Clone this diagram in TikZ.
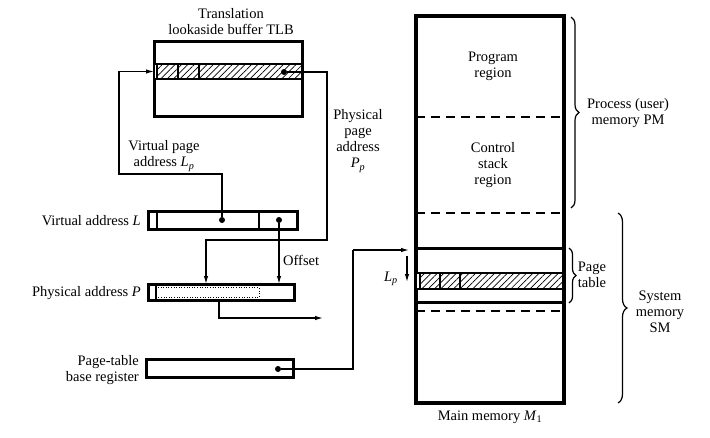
\documentclass[tikz,border=0pt]{standalone}
\usepackage{fontspec}
\setmainfont{Liberation Serif}
\usetikzlibrary{patterns.meta,arrows.meta,decorations.pathreplacing}
\begin{document}
\begin{tikzpicture}[x=1pt,y=-1pt,
  txt/.style={font=\fontsize{14.5}{16}\selectfont, inner sep=0pt, align=center},
  regbox/.style={draw, line width=3pt, inner sep=0pt, outer sep=0pt, anchor=north west},
  hatchrow/.style={draw, line width=1.3pt, inner sep=0pt, outer sep=0pt, anchor=north west,
     pattern={Lines[angle=45,distance=4.5pt,line width=0.7pt]}},
  thin/.style={line width=1.2pt},
  conn/.style={line width=1.2pt},
  arr/.style={conn, -{Latex[length=8pt,width=4.5pt]}},
  dot/.style={circle, fill, inner sep=0pt, minimum size=6pt},
  dashln/.style={line width=1.8pt, dash pattern=on 9pt off 6pt},
  brc/.style={decorate, decoration={brace, amplitude=8pt}, line width=1.2pt}
]
\useasboundingbox (0,0) rectangle (710,437);

% ---------- TLB ----------
\node[regbox, minimum width=148pt, minimum height=75pt] (tlb) at (154,41) {};
\node[hatchrow, minimum width=148pt, minimum height=15pt] (tlbrow) at (154,64) {};
\fill[white] (155,64.7) rectangle (157,78.3);
\draw[thin] (157,64) -- (157,79);
\draw[thin] (178,64) -- (178,79);
\draw[thin] (199,64) -- (199,79);
\node[dot] (tlbdot) at (284,72) {};
\node[txt] (tlbl) at (231,22) {Translation\\lookaside buffer TLB};

% ---------- Virtual address L ----------
\node[regbox, minimum width=149pt, minimum height=18pt] (L) at (148,211) {};
\draw[thin] (157,211) -- (157,229);
\draw[thin] (259,211) -- (259,229);
\node[dot] (Ldot1) at (222,220) {};
\node[dot] (Ldot2) at (279,220) {};
\node[txt, anchor=east] (Llbl) at (141,221) {Virtual address \textit{L}};

% ---------- Physical address P ----------
\node[regbox, minimum width=146pt, minimum height=16pt] (P) at (148,284) {};
\draw[thin] (156,284) -- (156,300);
\draw[line width=0.6pt, dotted] (158,287.5) -- (259,287.5) -- (259,297) -- (158,297);
\node[txt, anchor=east] (Plbl) at (141,293) {Physical address \textit{P}};

% ---------- Page-table base register ----------
\node[regbox, minimum width=147pt, minimum height=18pt] (ptbr) at (146,359) {};
\node[dot] (ptdot) at (278,369) {};
\node[txt, anchor=east, align=right] (ptbrlbl) at (139,370) {Page-table\\base register};

% ---------- Main memory ----------
\node[regbox, line width=3.3pt, minimum width=148pt, minimum height=387pt] (mm) at (416,16) {};
\draw[dashln] (416,117) -- (564,117);
\draw[dashln] (416,213) -- (564,213);
\draw[line width=3pt] (416,248) -- (564,248);
\node[hatchrow, minimum width=148pt, minimum height=16pt] (ptrow) at (416,273) {};
\fill[white] (417,273.7) rectangle (420,288.3);
\draw[thin] (420,273) -- (420,289);
\draw[thin] (440,273) -- (440,289);
\draw[thin] (460,273) -- (460,289);
\draw[line width=3pt] (416,302) -- (564,302);
\draw[dashln] (416,311) -- (564,311);
\node[txt] (prog) at (493,66) {Program\\region};
\node[txt] (ctl) at (493,165) {Control\\stack\\region};
\node[txt] (mmlbl) at (490,417) {Main memory \textit{M}\textsubscript{1}};

% ---------- braces ----------
\coordinate (pmT) at (571,17);
\coordinate (pmB) at (571,208);
\draw[brc] (pmT) -- (pmB);
\node[txt] (pmlbl) at (628,113) {Process (user)\\memory PM};
\coordinate (ptT) at (569,248);
\coordinate (ptB) at (569,303);
\draw[brc, decoration={amplitude=7pt}] (ptT) -- (ptB);
\node[txt] (ptlbl) at (592,275) {Page\\table};
\coordinate (smT) at (618,213);
\coordinate (smB) at (618,403);
\draw[brc, decoration={amplitude=9pt}] (smT) -- (smB);
\node[txt] (smlbl) at (660,312) {System\\memory\\SM};

% ---------- connectors ----------
\coordinate (lpturn) at (119,174);
\draw[arr] (Ldot1) |- (lpturn) |- (tlbrow.west);
\node[txt] (lplbl) at (164,156) {Virtual page\\address \textit{L}\textsubscript{\textit{p}}};

\coordinate (ppA) at (327,240);
\coordinate (ppEnd) at (206,284);
\draw[arr] (tlbdot) -| (ppA) -| (ppEnd);
\node[txt] (pplbl) at (358,141) {Physical\\page\\address\\\textit{P}\textsubscript{\textit{p}}};

\coordinate (offEnd) at (279,284);
\draw[arr] (Ldot2) -- (offEnd);
\node[txt, anchor=west] (offlbl) at (283,260) {Offset};

\coordinate (pout) at (323,318);
\draw[arr] ([xshift=-2pt]P.south) |- (pout);

\coordinate (ptA) at (353,250);
\coordinate (ptEnd) at (409,250);
\draw[conn] (ptdot) -| (ptA);
\draw[arr] (ptA) -- (ptEnd);

\coordinate (lpa1) at (407,256);
\coordinate (lpa2) at (407,282);
\draw[arr] (lpa1) -- (lpa2);
\node[txt] (lpmm) at (391,279) {\textit{L}\textsubscript{\textit{p}}};
\end{tikzpicture}
\end{document}
